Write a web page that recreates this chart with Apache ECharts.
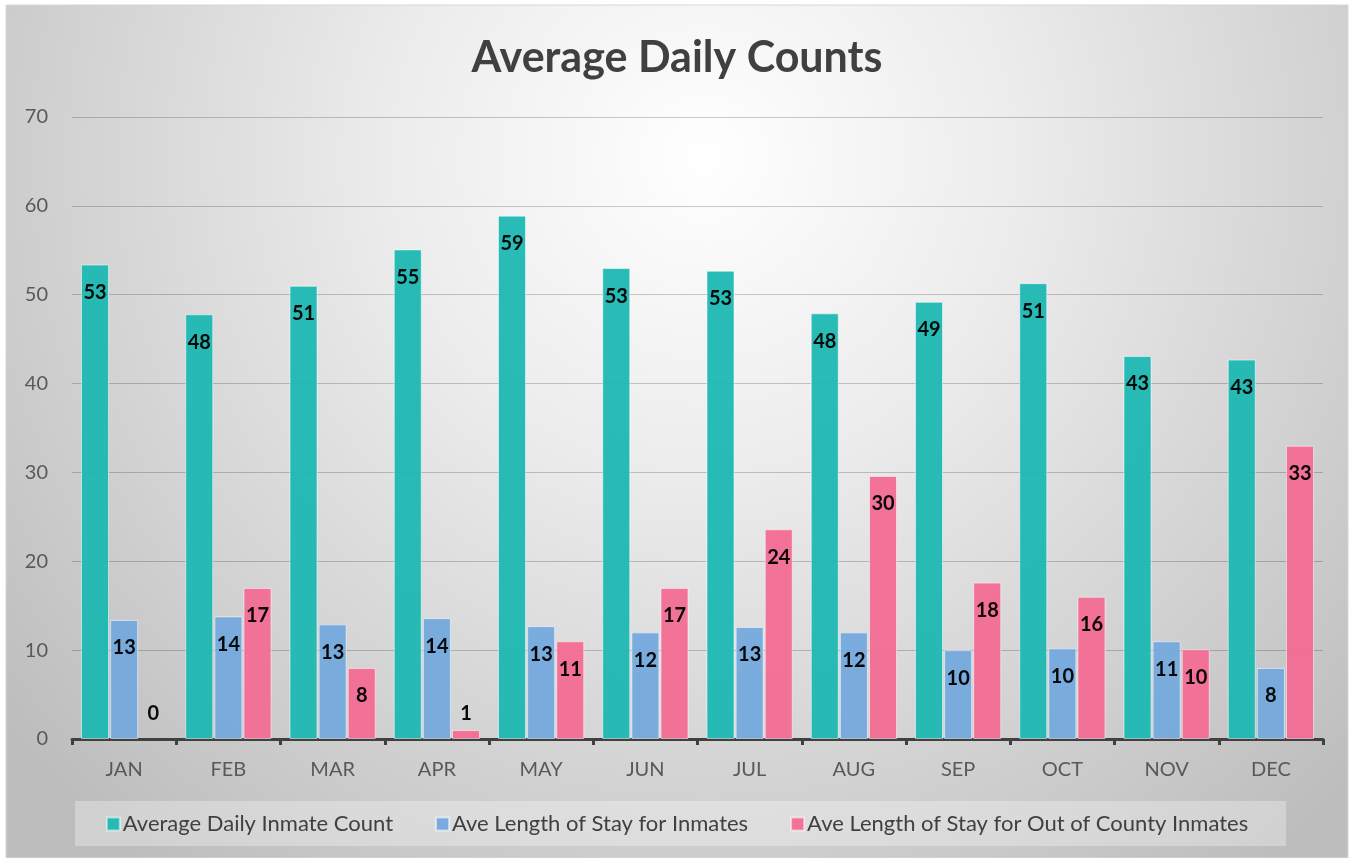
<!DOCTYPE html>
<html>
<head>
<meta charset="utf-8">
<script src="https://cdn.jsdelivr.net/npm/echarts@6/dist/echarts.min.js"></script>
<style>
  html, body { margin: 0; padding: 0; background: #fff; }
  #chart { width: 1354px; height: 858px; }
</style>
</head>
<body>
<div id="chart"></div>
<script>
var months = ['JAN', 'FEB', 'MAR', 'APR', 'MAY', 'JUN', 'JUL', 'AUG', 'SEP', 'OCT', 'NOV', 'DEC'];
var dailyCount = [53.4, 47.8, 51.0, 55.1, 58.9, 53.0, 52.7, 47.9, 49.2, 51.3, 43.1, 42.7];
var stayInmates = [13.4, 13.8, 12.9, 13.6, 12.7, 12.0, 12.6, 12.0, 10.0, 10.2, 11.0, 8.0];
var stayOutCounty = [0, 17.0, 8.0, 1.0, 11.0, 17.0, 23.6, 29.6, 17.6, 16.0, 10.1, 33.0];
var yTicks = [0, 10, 20, 30, 40, 50, 60, 70];

var myChart = echarts.init(document.getElementById('chart'));

var fontName = 'Lato';

// labels sit inside the top of the bar; very short bars get them above
function withLabels(values) {
    return values.map(function (v) {
        if (v < 3) {
            return {
                value: v,
                label: { position: 'insideBottom', distance: 15 },
                itemStyle: { borderWidth: v === 0 ? 0 : 1 }
            };
        }
        return v;
    });
}

var barLabel = {
    show: true,
    position: 'insideTop',
    distance: 18,
    color: '#000',
    fontFamily: fontName,
    fontWeight: 'bold',
    fontSize: 20,
    formatter: function (p) { return Math.round(p.value); }
};

function makeSeries(name, color, values) {
    return {
        name: name,
        type: 'bar',
        barWidth: 28,
        barGap: '4%',
        data: withLabels(values),
        itemStyle: {
            color: color,
            opacity: 0.95,
            borderColor: 'rgba(255,255,255,0.55)',
            borderWidth: 1
        },
        label: barLabel
    };
}

var option = {
    backgroundColor: '#fff',
    animation: false,
    graphic: [
        {
            type: 'rect',
            z: -10,
            silent: true,
            shape: { x: 6, y: 5, width: 1342, height: 853 },
            style: {
                fill: new echarts.graphic.RadialGradient(0.52, 0.18, 1.05, [
                    { offset: 0, color: '#ffffff' },
                    { offset: 0.35, color: '#ececec' },
                    { offset: 1, color: '#bdbdbd' }
                ]),
                stroke: '#d6d6d6',
                lineWidth: 1
            }
        },
        {
            type: 'rect',
            z: -9,
            silent: true,
            shape: { x: 75, y: 801, width: 1211, height: 45 },
            style: { fill: 'rgba(255,255,255,0.3)' }
        }
    ],
    title: {
        text: 'Average Daily Counts',
        left: 'center',
        top: 32,
        textStyle: {
            fontFamily: fontName,
            fontWeight: 'bold',
            fontSize: 43,
            color: '#404040'
        }
    },
    legend: {
        left: 'center',
        top: 808,
        itemWidth: 13,
        itemHeight: 13,
        itemGap: 42,
        icon: 'rect',
        textStyle: {
            fontFamily: fontName,
            fontSize: 22,
            color: '#404040',
            padding: [0, 0, 0, -2]
        },
        data: ['Average Daily Inmate Count', 'Ave Length of Stay for Inmates', 'Ave Length of Stay for Out of County Inmates']
    },
    grid: {
        left: 72,
        right: 31,
        top: 117,
        bottom: 119
    },
    xAxis: {
        type: 'category',
        data: months,
        axisLine: { lineStyle: { color: '#404040', width: 3 } },
        axisTick: { show: true, length: 6, lineStyle: { color: '#404040', width: 3 } },
        axisLabel: {
            margin: 21,
            fontFamily: fontName,
            fontSize: 20,
            color: '#595959'
        }
    },
    yAxis: {
        type: 'value',
        min: yTicks[0],
        max: yTicks[yTicks.length - 1],
        interval: 10,
        axisLine: { show: false },
        axisTick: { show: false },
        axisLabel: {
            margin: 24,
            fontFamily: fontName,
            fontSize: 20,
            color: '#595959'
        },
        splitLine: { lineStyle: { color: 'rgba(0,0,0,0.2)', width: 1 } }
    },
    series: [
        makeSeries('Average Daily Inmate Count', '#1db8b3', dailyCount),
        makeSeries('Ave Length of Stay for Inmates', '#74a9dc', stayInmates),
        makeSeries('Ave Length of Stay for Out of County Inmates', '#f26b93', stayOutCounty)
    ]
};

myChart.setOption(option);
</script>
</body>
</html>
